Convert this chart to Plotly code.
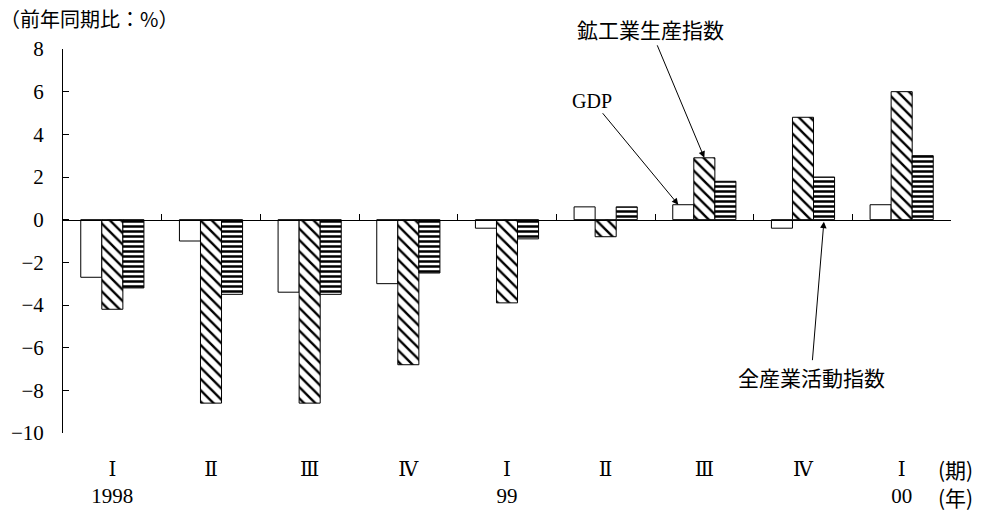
import plotly.graph_objects as go

# ---- data ----
categories = ["1998Q1", "1998Q2", "1998Q3", "1998Q4", "1999Q1", "1999Q2", "1999Q3", "1999Q4", "2000Q1"]
quarter_labels = ["Ⅰ", "Ⅱ", "Ⅲ", "Ⅳ", "Ⅰ", "Ⅱ", "Ⅲ", "Ⅳ", "Ⅰ"]
year_labels = ["1998", "", "", "", "99", "", "", "", "00"]
gdp = [-2.7, -1.0, -3.4, -3.0, -0.4, 0.6, 0.7, -0.4, 0.7]
mining_index = [-4.2, -8.6, -8.6, -6.8, -3.9, -0.8, 2.9, 4.8, 6.0]
all_industry_index = [-3.2, -3.5, -3.5, -2.5, -0.9, 0.6, 1.8, 2.0, 3.0]
y_ticks = [-10, -8, -6, -4, -2, 0, 2, 4, 6, 8]

SERIF = "Liberation Serif, DejaVu Serif, serif"
JP = "Noto Sans CJK JP, sans-serif"
BARGAP = 0.36
BARW = (1 - BARGAP) / 3

fig = go.Figure()
fig.add_trace(go.Bar(
    x=categories, y=gdp, name="GDP",
    marker=dict(color="white", line=dict(color="black", width=1)),
))
fig.add_trace(go.Bar(
    x=categories, y=mining_index, name="鉱工業生産指数",
    marker=dict(color="white", line=dict(color="black", width=1),
                pattern=dict(shape="\\", fgcolor="black", bgcolor="white",
                             size=8, solidity=0.3, fillmode="replace")),
))
fig.add_trace(go.Bar(
    x=categories, y=all_industry_index, name="全産業活動指数",
    marker=dict(color="white", line=dict(color="black", width=1),
                pattern=dict(shape="-", fgcolor="black", bgcolor="white",
                             size=5, solidity=0.5, fillmode="replace")),
))
# invisible helper traces for the zero axis line and the year row
fig.add_trace(go.Scatter(x=list(range(len(categories))), y=gdp, xaxis="x2",
                         mode="markers", marker=dict(opacity=0),
                         hoverinfo="skip", showlegend=False))
fig.add_trace(go.Scatter(x=list(range(len(categories))), y=gdp, xaxis="x3",
                         mode="markers", marker=dict(opacity=0),
                         hoverinfo="skip", showlegend=False))

n = len(categories)
ymin, ymax = y_ticks[0], y_ticks[-1]
zero_pos = (0 - ymin) / (ymax - ymin)
PLOT_H = 512 - 49 - 79

fig.update_layout(
    width=981, height=512,
    margin=dict(l=63, r=30, t=49, b=79, autoexpand=False),
    paper_bgcolor="white", plot_bgcolor="white",
    barmode="group", bargap=BARGAP, bargroupgap=0,
    showlegend=False,
    font=dict(family=SERIF, color="black", size=20),
    title=dict(text="（前年同期比：%）", x=0, xanchor="left", xref="container",
               y=1 - 20 / 512, yanchor="middle", yref="container",
               font=dict(family=JP, size=20, color="black")),
    xaxis=dict(
        type="category", categoryorder="array", categoryarray=categories,
        range=[-0.5, n - 0.5], automargin=False,
        tickmode="array", tickvals=categories, ticktext=quarter_labels,
        showline=False, ticks="", showgrid=False, zeroline=False,
        tickfont=dict(family=SERIF, size=20), ticklabelstandoff=22,
    ),
    xaxis2=dict(
        overlaying="x", anchor="free", position=zero_pos, side="bottom",
        type="linear", range=[-0.5, n - 0.5], automargin=False,
        tickmode="array", tickvals=[i - 0.5 for i in range(n + 1)],
        showticklabels=False, ticks="inside", ticklen=6, tickwidth=1,
        tickcolor="black", showline=True, linecolor="black", linewidth=1,
        showgrid=False, zeroline=False,
    ),
    xaxis3=dict(
        overlaying="x", anchor="y", side="bottom",
        type="linear", range=[-0.5, n - 0.5], automargin=False,
        tickmode="array", tickvals=list(range(n)), ticktext=year_labels,
        showline=False, ticks="", showgrid=False, zeroline=False,
        tickfont=dict(family=SERIF, size=21), ticklabelstandoff=48,
    ),
    yaxis=dict(
        range=[ymin, ymax], tickmode="array", tickvals=y_ticks, automargin=False,
        ticktext=[str(v) if v >= 0 else "−" + str(-v) for v in y_ticks],
        showline=True, linecolor="black", linewidth=1,
        ticks="inside", ticklen=6, tickwidth=1, tickcolor="black",
        showgrid=False, zeroline=False,
        tickfont=dict(family=SERIF, size=21), ticklabelstandoff=14,
    ),
)

# unit labels for the x rows
fig.add_annotation(text="(期)", xref="paper", yref="paper", x=(955 - 63) / 888,
                   y=-36 / PLOT_H, xanchor="center", yanchor="middle", showarrow=False,
                   font=dict(family=JP, size=21))
fig.add_annotation(text="(年)", xref="paper", yref="paper", x=(955 - 63) / 888,
                   y=-64 / PLOT_H, xanchor="center", yanchor="middle", showarrow=False,
                   font=dict(family=JP, size=21))

# series labels with arrows
fig.add_annotation(text="鉱工業生産指数", x=6, y=mining_index[6], xref="x", yref="y",
                   ax=-54, ay=-129, showarrow=True, arrowhead=2, arrowsize=1.3,
                   arrowwidth=1, arrowcolor="black",
                   font=dict(family=JP, size=21))
fig.add_annotation(text="GDP", x=6 - BARW - 0.05, y=gdp[6], xref="x", yref="y",
                   ax=-86, ay=-104, showarrow=True, arrowhead=2, arrowsize=1.3,
                   arrowwidth=1, arrowcolor="black",
                   font=dict(family=SERIF, size=20))
fig.add_annotation(text="全産業活動指数", x=7 + BARW, y=0, xref="x", yref="y",
                   ax=-13, ay=157, showarrow=True, arrowhead=2, arrowsize=1.3,
                   arrowwidth=1, arrowcolor="black", standoff=2,
                   font=dict(family=JP, size=21))

fig.write_html("out.html")
